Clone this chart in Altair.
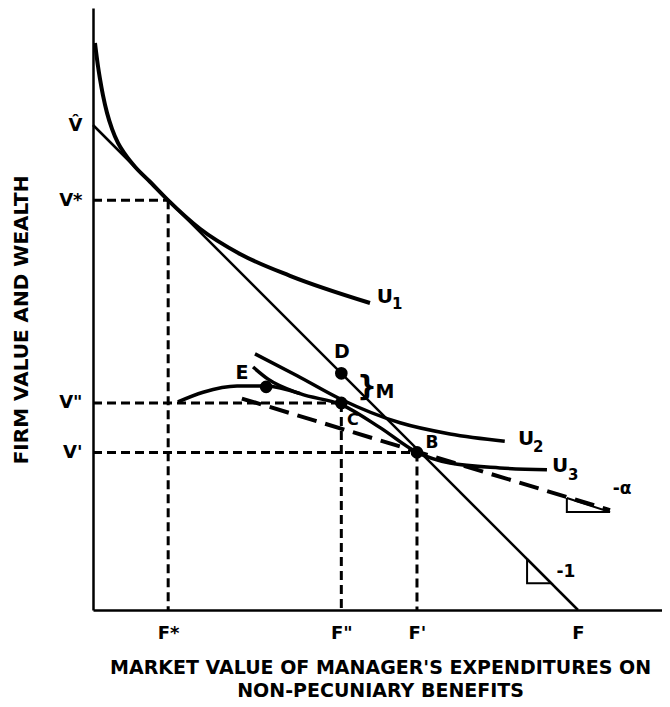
import json
import altair as alt
import pandas as pd

# ---- readings from the figure (F = non-pecuniary benefits, V = firm value) ----
# budget line V-hat -> F (slope -1)
VF_F = [0.0, 100.0]
VF_V = [100.0, 0.0]

# indifference curve U1 (tangent at V*, F*)
U1_F = [0.41, 0.62, 1.03, 1.44, 2.06, 2.89, 3.92, 5.15, 6.60, 8.66, 11.75, 15.46, 22.06, 30.31, 40.62, 57.11]
U1_V = [116.9, 115.2, 112.1, 109.5, 106.1, 102.5, 99.2, 96.3, 94.0, 91.4, 88.3, 84.5, 78.6, 73.4, 68.9, 63.3]

# indifference curve U2
U2_F = [33.4, 42.1, 51.2, 63.3, 73.6, 84.9]
U2_V = [52.8, 48.3, 43.4, 38.6, 36.3, 34.8]

# curve through C and B, continuing as U3
U3_F = [33.0, 36.1, 42.7, 51.3, 59.2, 66.8, 73.6, 83.9, 93.6]
U3_V = [50.1, 47.6, 44.6, 42.3, 37.6, 32.5, 30.3, 29.3, 28.9]

# curve rising to E
E_F = [17.5, 22.7, 29.7, 35.7, 42.7]
E_V = [42.9, 44.9, 46.2, 46.2, 44.6]

# dashed line of slope -alpha
ALPHA_F = [30.7, 106.6]
ALPHA_V = [43.6, 20.6]

# slope triangles
TRI_A_F = [97.7, 97.7, 106.6, 97.7]
TRI_A_V = [23.1, 20.2, 20.2, 23.1]
TRI_1_F = [89.5, 89.5, 94.5, 89.5]
TRI_1_V = [10.5, 5.5, 5.5, 10.5]

# marked points
PT_NAMES = ["D", "C", "E", "B"]
PT_F = [51.2, 51.2, 35.7, 66.8]
PT_V = [48.8, 42.7, 46.0, 32.5]

# axis ticks
V_TICKS = [100.0, 84.5, 42.7, 32.5]
V_LABELS = ["V\u0302", "V*", 'V"', "V'"]
F_TICKS = [15.5, 51.2, 66.8, 100.0]
F_LABELS = ["F*", 'F"', "F'", "F"]

# annotations
ANN_TEXT = ["U", "1", "D", "M", "}", "C", "E", "B", "U", "2", "U", "3", "-\u03b1", "-1"]
ANN_F = [60.2, 62.7, 51.3, 60.2, 56.5, 53.6, 30.7, 69.9, 89.3, 91.8, 96.3, 99.0, 109.1, 97.5]
ANN_V = [64.5, 63.1, 53.2, 44.9, 45.8, 39.2, 48.9, 34.4, 35.3, 33.6, 29.7, 27.8, 24.9, 7.8]
ANN_SIZE = [20, 15, 19, 19, 28, 16, 19, 17, 20, 15, 20, 15, 17, 17]

X_TITLE = ["MARKET VALUE OF MANAGER'S EXPENDITURES ON", "NON-PECUNIARY BENEFITS"]
Y_TITLE = "FIRM VALUE AND WEALTH"

# ---- layout ----
PX = 4.85
W, H = 569, 602
X_MAX = W / PX
Y_MAX = H / PX
FONT = "DejaVu Sans"


def label_expr(vals, labs):
    expr = "''"
    for v, l in reversed(list(zip(vals, labs))):
        expr = f"datum.value == {v} ? {json.dumps(l)} : ({expr})"
    return expr


x_axis = alt.Axis(values=F_TICKS, labelExpr=label_expr(F_TICKS, F_LABELS), title=None,
                  domainColor="black", domainWidth=2.5, ticks=False, grid=False,
                  labelFont=FONT, labelFontSize=18, labelFontWeight="bold", labelColor="black",
                  labelPadding=14, labelFlush=False, labelOverlap=False)
y_axis = alt.Axis(values=V_TICKS, labelExpr=label_expr(V_TICKS, V_LABELS), title=None,
                  domainColor="black", domainWidth=2.5, ticks=False, grid=False,
                  labelFont=FONT, labelFontSize=18, labelFontWeight="bold", labelColor="black",
                  labelPadding=11, labelAngle=0, labelFlush=False, labelOverlap=False)
xs = alt.Scale(domain=[0, X_MAX], nice=False, zero=False)
ys = alt.Scale(domain=[0, Y_MAX], nice=False, zero=False)


def X(f="F"):
    return alt.X(f"{f}:Q", scale=xs, axis=x_axis)


def Y(f="V"):
    return alt.Y(f"{f}:Q", scale=ys, axis=y_axis)


def curve_df(F, V):
    return pd.DataFrame({"F": F, "V": V, "o": list(range(len(F)))})


def curve(F, V, width, dash=None, interp="monotone"):
    kw = dict(color="black", strokeWidth=width, interpolate=interp, strokeCap="butt")
    if dash:
        kw["strokeDash"] = dash
    return alt.Chart(curve_df(F, V)).mark_line(**kw).encode(x=X(), y=Y(), order="o:Q")


# dashed guides from the marked values
guides = []
for i, (f, v) in enumerate([(F_TICKS[0], V_TICKS[1]), (F_TICKS[1], V_TICKS[2]), (F_TICKS[2], V_TICKS[3])]):
    guides += [
        {"F": 0.0, "V": v, "seg": f"h{i}", "o": 0}, {"F": f, "V": v, "seg": f"h{i}", "o": 1},
        {"F": f, "V": v, "seg": f"v{i}", "o": 0}, {"F": f, "V": 0.0, "seg": f"v{i}", "o": 1},
    ]
guide_layer = alt.Chart(pd.DataFrame(guides)).mark_line(
    color="black", strokeWidth=3, strokeDash=[9, 5]
).encode(x=X(), y=Y(), detail="seg:N", order="o:Q")

layers = [
    guide_layer,
    curve(VF_F, VF_V, 2.5, interp="linear"),
    curve(U1_F, U1_V, 4),
    curve(U2_F, U2_V, 3.5),
    curve(U3_F, U3_V, 3.5),
    curve(E_F, E_V, 3.5),
    curve(ALPHA_F, ALPHA_V, 4, dash=[20, 9], interp="linear"),
    curve(TRI_A_F, TRI_A_V, 2, interp="linear"),
    curve(TRI_1_F, TRI_1_V, 2, interp="linear"),
]

pts = pd.DataFrame({"F": PT_F, "V": PT_V, "name": PT_NAMES})
layers.append(alt.Chart(pts).mark_circle(color="black", opacity=1, size=160).encode(x=X(), y=Y()))

ann = pd.DataFrame({"F": ANN_F, "V": ANN_V, "t": ANN_TEXT, "s": ANN_SIZE})
layers.append(alt.Chart(ann).mark_text(font=FONT, fontWeight="bold", color="black", align="center",
                                       baseline="middle").encode(
    x=X(), y=Y(), text="t:N", size=alt.Size("s:Q", scale=None)))

xt = pd.DataFrame({"F": [59.3, 59.3], "V": [-12.0, -16.6], "t": X_TITLE})
layers.append(alt.Chart(xt).mark_text(font=FONT, fontWeight="bold", fontSize=19, color="black",
                                      align="center", baseline="middle").encode(x=X(), y=Y(), text="t:N"))
yt = pd.DataFrame({"F": [-14.6], "V": [59.8], "t": [Y_TITLE]})
layers.append(alt.Chart(yt).mark_text(font=FONT, fontWeight="bold", fontSize=20, color="black", angle=270,
                                      align="center", baseline="middle").encode(x=X(), y=Y(), text="t:N"))

chart = alt.layer(*layers).properties(
    width=W, height=H,
    autosize=alt.AutoSizeParams(type="none"),
    padding={"left": 85, "top": 0, "right": 0, "bottom": 92},
    background="white",
).configure_view(stroke=None)

chart.save("out.html", embed_options={"renderer": "svg", "actions": False})
